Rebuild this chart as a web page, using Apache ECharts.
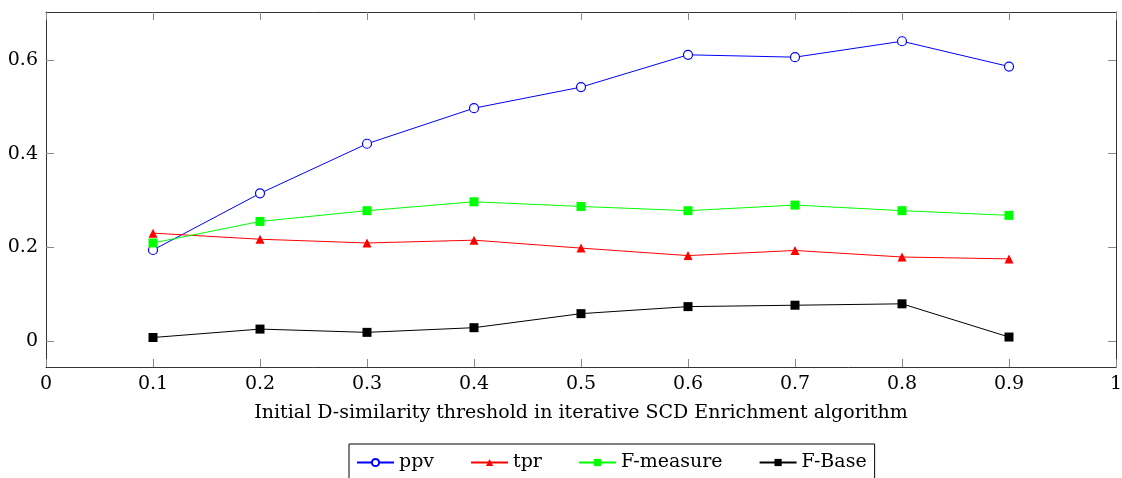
<!DOCTYPE html>
<html>
<head>
<meta charset="utf-8">
<script src="https://cdn.jsdelivr.net/npm/echarts@6/dist/echarts.min.js"></script>
<style>html,body{margin:0;padding:0;background:#fff;}#c{width:1122px;height:478px;}</style>
</head>
<body>
<div id="c"></div>
<script>
const thresholds = [0.1, 0.2, 0.3, 0.4, 0.5, 0.6, 0.7, 0.8, 0.9];
const ppv      = [0.194, 0.315, 0.421, 0.497, 0.542, 0.611, 0.606, 0.640, 0.586];
const tpr      = [0.230, 0.217, 0.209, 0.215, 0.198, 0.182, 0.193, 0.179, 0.175];
const fMeasure = [0.209, 0.255, 0.278, 0.297, 0.287, 0.278, 0.290, 0.278, 0.268];
const fBase    = [0.007, 0.025, 0.018, 0.028, 0.058, 0.073, 0.076, 0.079, 0.008];
const xTicks = [0, 0.1, 0.2, 0.3, 0.4, 0.5, 0.6, 0.7, 0.8, 0.9, 1];
const yTicks = [0, 0.2, 0.4, 0.6];
const seriesNames = ['ppv', 'tpr', 'F-measure', 'F-Base'];
const xTitle = 'Initial D-similarity threshold in iterative SCD Enrichment algorithm';

const FONT = 'DejaVu Serif';
const FS = 19;
const pairs = arr => thresholds.map((x, i) => [x, arr[i]]);
const fmt = v => String(Math.round(v * 10) / 10);

const chart = echarts.init(document.getElementById('c'), null, {renderer: 'canvas'});
const axisLineStyle = {color: '#333', width: 1};
const tickStyle = {color: '#888', width: 1};
const labelStyle = {fontFamily: FONT, fontSize: FS, color: '#000'};

function mk(name, data, color, symbol, fill) {
  return {
    name, type: 'line', data: pairs(data), symbol, symbolSize: 9,
    lineStyle: {color, width: 1},
    itemStyle: {color: fill, borderColor: color, borderWidth: fill === '#fff' ? 1.2 : 0},
    emphasis: {disabled: true}, animation: false
  };
}

chart.setOption({
  animation: false,
  textStyle: {fontFamily: FONT, fontSize: FS, color: '#000'},
  grid: {left: 46, right: 6, top: 12, bottom: 111, outerBoundsMode: 'none', containLabel: false},
  legend: {
    data: seriesNames, bottom: -16, left: 349,
    padding: [9, 8, 22, 7], borderColor: '#000', borderWidth: 1,
    itemWidth: 37, itemHeight: 9, itemGap: 36,
    textStyle: labelStyle
  },
  xAxis: [{
    type: 'value', min: 0, max: 1, position: 'bottom',
    name: xTitle, nameLocation: 'middle', nameGap: 37,
    nameTextStyle: labelStyle,
    axisLine: {show: true, onZero: false, lineStyle: axisLineStyle},
    axisTick: {show: true, inside: true, length: 8, lineStyle: tickStyle, customValues: xTicks},
    axisLabel: Object.assign({margin: 8, customValues: xTicks, formatter: fmt}, labelStyle),
    splitLine: {show: false}
  }, {
    type: 'value', min: 0, max: 1, position: 'top',
    axisLine: {show: true, onZero: false, lineStyle: axisLineStyle},
    axisTick: {show: true, inside: true, length: 8, lineStyle: tickStyle, customValues: xTicks},
    axisLabel: {show: false}, splitLine: {show: false}
  }],
  yAxis: [{
    type: 'value', min: -0.056, max: 0.7025, position: 'left',
    axisLine: {show: true, onZero: false, lineStyle: axisLineStyle},
    axisTick: {show: true, inside: true, length: 8, lineStyle: tickStyle, customValues: yTicks},
    axisLabel: Object.assign({margin: 8, customValues: yTicks, formatter: fmt}, labelStyle),
    splitLine: {show: false}
  }, {
    type: 'value', min: -0.056, max: 0.7025, position: 'right',
    axisLine: {show: true, onZero: false, lineStyle: axisLineStyle},
    axisTick: {show: true, inside: true, length: 8, lineStyle: tickStyle, customValues: yTicks},
    axisLabel: {show: false}, splitLine: {show: false}
  }],
  series: [
    mk('ppv', ppv, '#0000ff', 'circle', '#fff'),
    mk('tpr', tpr, '#ff0000', 'triangle', '#ff0000'),
    mk('F-measure', fMeasure, '#00ff00', 'rect', '#00ff00'),
    mk('F-Base', fBase, '#000000', 'rect', '#000000')
  ]
});
</script>
</body>
</html>
